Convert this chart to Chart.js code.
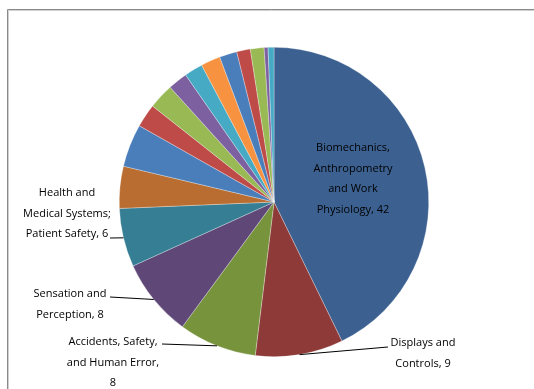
<!DOCTYPE html>
<html>
<head>
<meta charset="utf-8">
<script src="https://cdn.jsdelivr.net/npm/chart.js@4/dist/chart.umd.min.js"></script>
<style>
    html, body { margin: 0; padding: 0; background: #fff; }
    #wrap { width: 534px; height: 389px; }
</style>
</head>
<body>
<div id="wrap"><canvas id="myChart" width="534" height="389"></canvas></div>
<script>
// Topic categories, in the order the slices run clockwise from 12 o'clock.
const categories = [
    'Biomechanics, Anthropometry and Work Physiology',
    'Displays and Controls',
    'Accidents, Safety, and Human Error',
    'Sensation and Perception',
    'Health and Medical Systems; Patient Safety',
    'Topic 6', 'Topic 7', 'Topic 8', 'Topic 9', 'Topic 10', 'Topic 11',
    'Topic 12', 'Topic 13', 'Topic 14', 'Topic 15', 'Topic 16', 'Topic 17'
];

// Slice values (the small ones are estimates).
const counts = [42, 9, 8, 8, 6, 4.3, 4.4, 2.4, 2.6, 2.0, 1.9, 2.0, 1.8, 1.4, 1.4, 0.4, 0.6];

// Text of the data labels that are shown, broken into lines as in the picture.
const labelLines = [
    ['Biomechanics,', 'Anthropometry', 'and Work', 'Physiology, '],
    ['Displays and', 'Controls, '],
    ['Accidents, Safety,', 'and Human Error,', ''],
    ['Sensation and', 'Perception, '],
    ['Health and', 'Medical Systems;', 'Patient Safety, ']
];

const sliceColors = [
    '#3C6191', '#8E3A38', '#77933C', '#5F4878', '#357E93', '#B96D30',
    '#4A7EBB', '#BE4B48', '#98B954', '#7D60A0', '#46AAC5', '#F69240',
    '#4A7EBB', '#BE4B48', '#98B954', '#7D60A0', '#46AAC5'
];

// Where each label sits: centre x, first baseline-centre y, and the leader line's text end.
const labelLayout = [
    { x: 353, y: 148, leader: null },
    { x: 423, y: 343, leader: { x: 388, y: 347 } },
    { x: 113, y: 342, leader: { x: 162, y: 344 } },
    { x: 70, y: 294, leader: { x: 110, y: 297 } },
    { x: 67, y: 193, leader: { x: 110, y: 238 } }
];

const frame = {
    id: 'frame',
    beforeDraw(chart) {
        const c = chart.ctx;
        c.save();
        c.fillStyle = '#fff';
        c.fillRect(0, 0, chart.width, chart.height);
        c.lineWidth = 1;
        c.strokeStyle = '#8a8a8a';
        c.beginPath();
        c.moveTo(7.5, chart.height);
        c.lineTo(7.5, 9.5);
        c.lineTo(chart.width, 9.5);
        c.stroke();
        c.strokeStyle = '#d0d0d0';
        c.beginPath();
        c.moveTo(8.5, chart.height);
        c.lineTo(8.5, 10.5);
        c.lineTo(chart.width, 10.5);
        c.stroke();
        c.restore();
    }
};

const sliceLabels = {
    id: 'sliceLabels',
    afterDatasetsDraw(chart) {
        const c = chart.ctx;
        const arcs = chart.getDatasetMeta(0).data;
        c.save();
        c.font = '11px "Open Sans", sans-serif';
        c.fillStyle = '#000';
        c.textAlign = 'center';
        c.textBaseline = 'middle';
        labelLines.forEach((lines, i) => {
            const pos = labelLayout[i];
            const value = String(Math.round(counts[i]));
            lines.forEach((line, k) => {
                const text = k === lines.length - 1 ? line + value : line;
                c.fillText(text, pos.x, pos.y + k * 20.5);
            });
            if (pos.leader) {
                const arc = arcs[i];
                const mid = (arc.startAngle + arc.endAngle) / 2;
                c.strokeStyle = '#000';
                c.lineWidth = 1;
                c.beginPath();
                c.moveTo(pos.leader.x, pos.leader.y);
                c.lineTo(arc.x + Math.cos(mid) * arc.outerRadius, arc.y + Math.sin(mid) * arc.outerRadius);
                c.stroke();
            }
        });
        c.restore();
    }
};

const ctx = document.getElementById('myChart').getContext('2d');
const chart = new Chart(ctx, {
    type: 'pie',
    data: {
        labels: categories,
        datasets: [{
            data: counts,
            backgroundColor: sliceColors,
            borderColor: 'rgba(255,255,255,0.6)',
            borderWidth: 0.5
        }]
    },
    options: {
        responsive: false,
        animation: false,
        layout: { padding: { left: 119, top: 47, right: 105, bottom: 32 } },
        plugins: {
            legend: { display: false },
            tooltip: { enabled: false }
        }
    },
    plugins: [frame, sliceLabels]
});
</script>
</body>
</html>
